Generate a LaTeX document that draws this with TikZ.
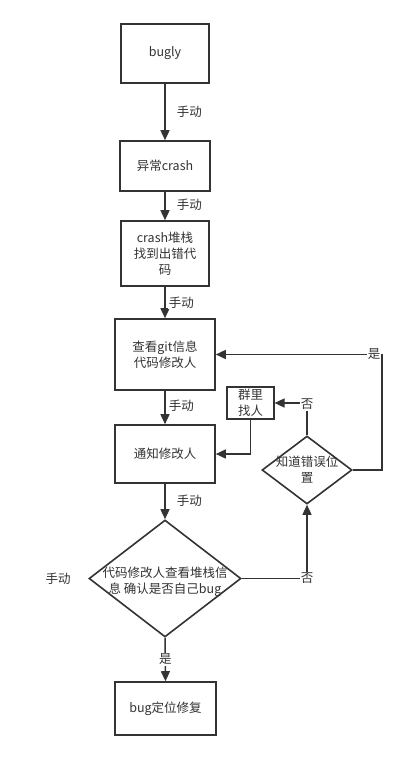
\documentclass[tikz,border=0pt]{standalone}
\usepackage{fontspec}
\setmainfont{Noto Sans CJK SC}
\usetikzlibrary{arrows.meta,shapes.geometric}
\definecolor{ink}{HTML}{333333}
\tikzset{
  box/.style={draw=ink,line width=1.6pt,minimum width=#1,inner sep=0pt,align=center,font=\fontsize{12.5}{16}\selectfont,text=ink},
  dia/.style={draw=ink,line width=1.6pt,diamond,inner sep=0pt},
  conn/.style={draw=ink,line width=1.5pt,-{Triangle[length=10pt,width=9pt]}},
  lab/.style={font=\fontsize{12.5}{14}\selectfont,text=ink,fill=white,inner sep=1pt},
  txt/.style={font=\fontsize{12.5}{16}\selectfont,text=ink,align=center,inner sep=0pt}
}
\begin{document}
\begin{tikzpicture}[x=1pt,y=-1pt]
\useasboundingbox (0,0) rectangle (406,760);
\node[box=88pt,minimum height=59pt] (bugly) at (165,53.5) {bugly};
\node[box=90pt,minimum height=50pt] (crash) at (165,166) {异常crash};
\node[box=88pt,minimum height=65pt] (stack) at (165,253.5) {crash堆栈\\找到出错代\\码};
\node[box=100pt,minimum height=71pt] (git) at (165,354.5) {查看git信息\\代码修改人};
\node[box=100pt,minimum height=58pt] (notify) at (165,454) {通知修改人};
\node[box=47pt,minimum height=32pt,line width=1.2pt] (group) at (250.5,403) {群里\\找人};
\node[dia,minimum width=90pt,minimum height=68pt] (know) at (307,470) {};
\node[txt] at (307,470) {知道错误位\\置};
\node[dia,minimum width=152pt,minimum height=117pt] (check) at (165,578.5) {};
\node[txt] at (165,582) {代码修改人查看堆栈信\\息 确认是否自己bug};
\node[box=101pt,minimum height=53pt] (fix) at (165.5,708.5) {bug定位修复};
\coordinate (c1) at (382,354.5);
\coordinate (c2) at (307,403);
\coordinate (c3) at (250.5,454);
\coordinate (c4) at (307,578.5);

\draw[conn] (bugly) -- (crash) node[lab,pos=0.5,right=10pt] {手动};
\draw[conn] (crash) -- (stack) node[lab,pos=0.45,right=10pt] {手动};
\draw[conn] (stack) -- (git) node[lab,pos=0.5,right=2pt] {手动};
\draw[conn] (git) -- (notify) node[lab,pos=0.45,right=2pt] {手动};
\draw[conn] (notify) -- (check) node[lab,pos=0.48,right=10pt] {手动};
\draw[conn] (check.south) -- (fix.north) node[lab,pos=0.5] {是};
\draw[conn] (check.east) -- (c4) node[lab,pos=1] {否} -- (know.south);
\draw[conn] (know.east) -| (c1) node[lab,pos=1,left=0pt] {是} -- (git.east);
\draw[conn] (know.north) -- (c2) node[lab,pos=1,below=-6pt] {否} -- (group.east);
\draw[conn] (group.south) |- (notify.east);
\node[lab] at (58,579) {手动};
\end{tikzpicture}
\end{document}
